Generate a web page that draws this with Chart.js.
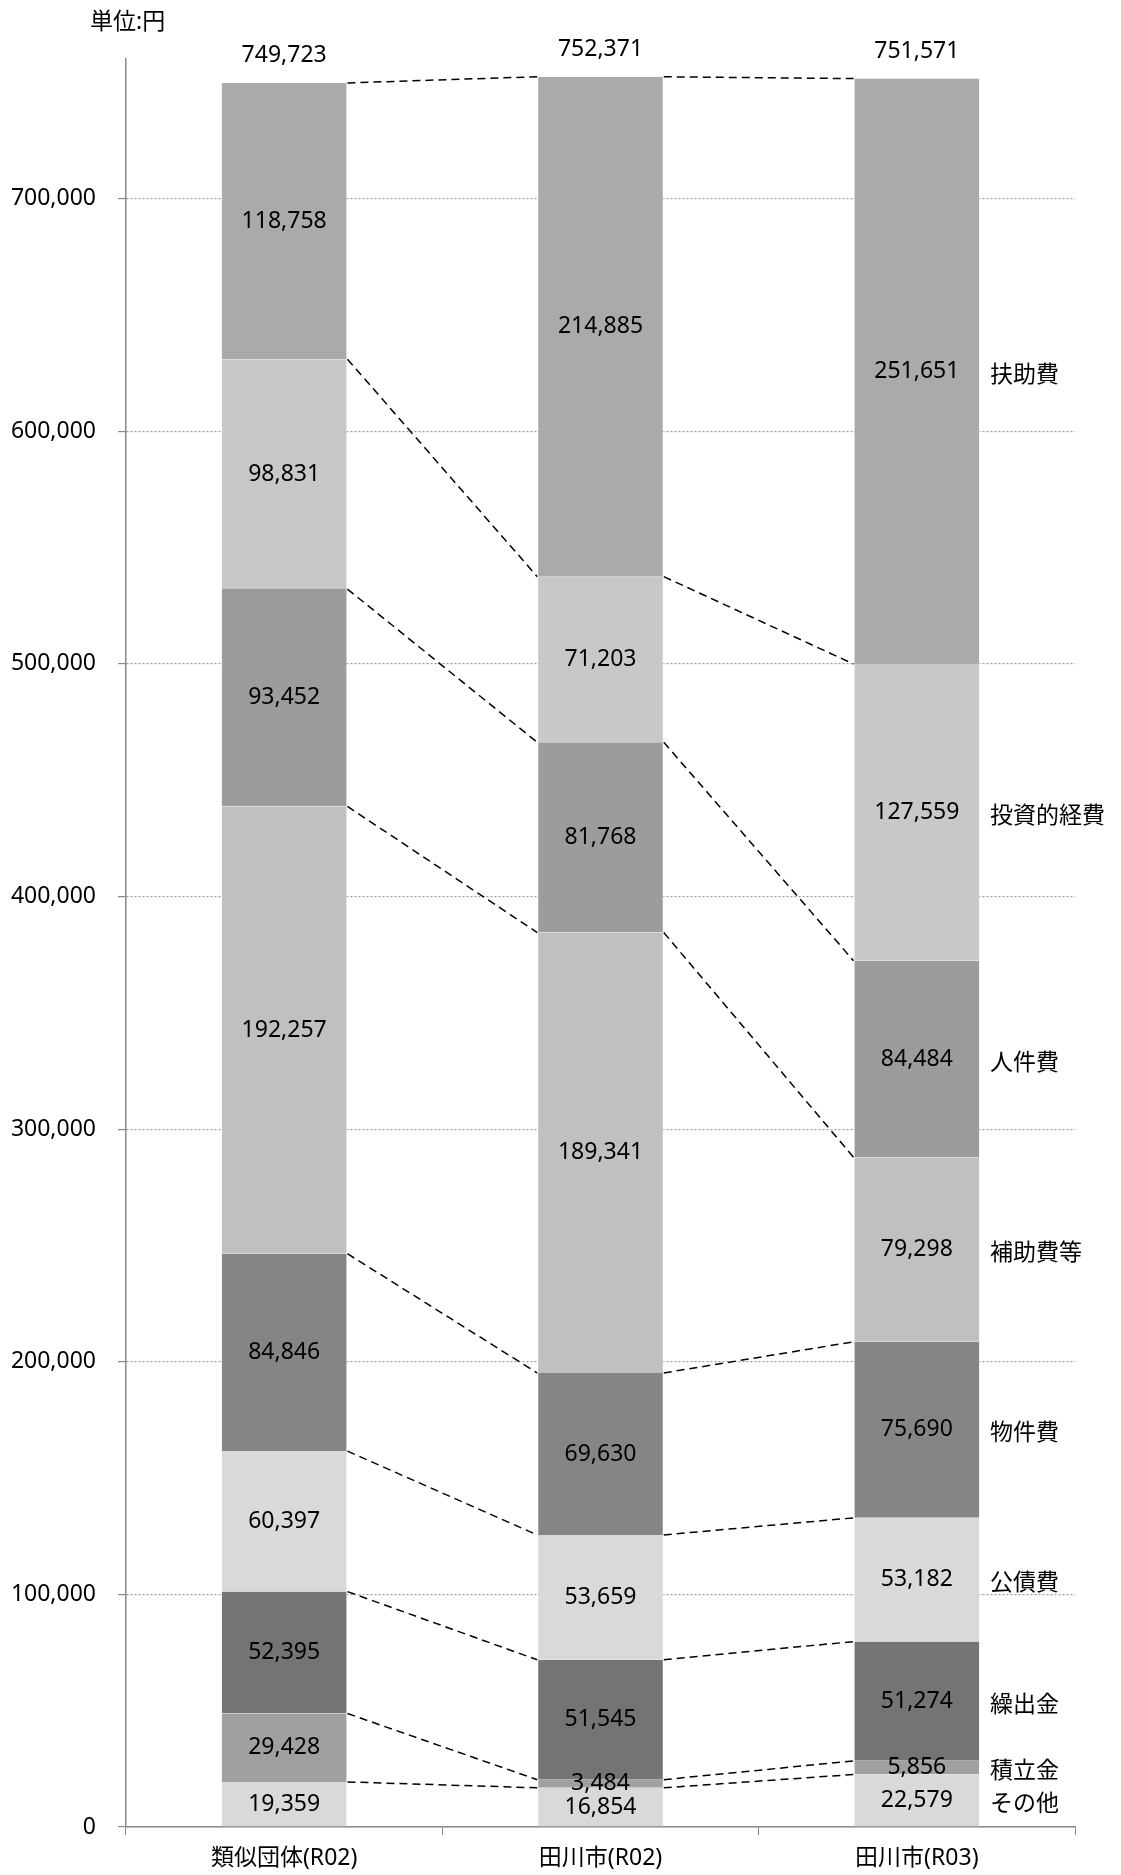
<!DOCTYPE html>
<html lang="ja">
<head>
<meta charset="utf-8">
<script src="https://cdn.jsdelivr.net/npm/chart.js@4.4.1/dist/chart.umd.min.js"></script>
<style>
    body { margin: 0; background: #fff; }
    #wrap { width: 1121px; height: 1875px; }
</style>
</head>
<body>
<div id="wrap"><canvas id="costChart" width="1121" height="1875"></canvas></div>
<script>
// 区分（左から）
const categories = ['類似団体(R02)', '田川市(R02)', '田川市(R03)'];

// 積み上げ順（下から）
const seriesNames = ['その他', '積立金', '繰出金', '公債費', '物件費', '補助費等', '人件費', '投資的経費', '扶助費'];
const sonota     = [19359, 16854, 22579];
const tsumitate  = [29428, 3484, 5856];
const kuridashi  = [52395, 51545, 51274];
const kousai     = [60397, 53659, 53182];
const bukken     = [84846, 69630, 75690];
const hojo       = [192257, 189341, 79298];
const jinken     = [93452, 81768, 84484];
const toushi     = [98831, 71203, 127559];
const fujo       = [118758, 214885, 251651];

// 合計（上に表示）
const totals = [749723, 752371, 751571];

// 目盛
const yTicks = [0, 100000, 200000, 300000, 400000, 500000, 600000, 700000];

const seriesData = [sonota, tsumitate, kuridashi, kousai, bukken, hojo, jinken, toushi, fujo];
const seriesColors = ['#d9d9d9', '#a0a0a0', '#747474', '#d9d9d9', '#858585', '#c0c0c0', '#9c9c9c', '#c8c8c8', '#aaaaaa'];

const FONT = '"Noto Sans", "Noto Sans CJK JP", sans-serif';
const FSIZE = 23;
const fmt = v => v.toLocaleString('en-US');

// 系列線・データラベル・系列名
const labelPlugin = {
    id: 'labelPlugin',
    afterDatasetsDraw(chart) {
        const ctx = chart.ctx;
        const n = chart.data.datasets.length;

        // 区分間の破線
        ctx.save();
        ctx.strokeStyle = '#000';
        ctx.lineWidth = 1.5;
        ctx.setLineDash([8, 5]);
        for (let k = 0; k < n; k++) {
            const bars = chart.getDatasetMeta(k).data;
            for (let i = 0; i < bars.length - 1; i++) {
                const a = bars[i], b = bars[i + 1];
                ctx.beginPath();
                ctx.moveTo(a.x + a.width / 2, a.y);
                ctx.lineTo(b.x - b.width / 2, b.y);
                ctx.stroke();
            }
        }
        ctx.restore();

        ctx.save();
        ctx.fillStyle = '#000';
        ctx.font = FSIZE + 'px ' + FONT;
        ctx.textAlign = 'center';
        ctx.textBaseline = 'middle';

        // 各区分の値
        for (let k = 0; k < n; k++) {
            const bars = chart.getDatasetMeta(k).data;
            bars.forEach((bar, i) => {
                const v = chart.data.datasets[k].data[i];
                ctx.fillText(fmt(v), bar.x, (bar.y + bar.base) / 2);
            });
        }

        // 合計
        const topBars = chart.getDatasetMeta(n - 1).data;
        topBars.forEach((bar, i) => {
            ctx.fillText(fmt(totals[i]), bar.x, bar.y - 27);
        });

        // 右端の系列名
        ctx.textAlign = 'left';
        const last = categories.length - 1;
        for (let k = 0; k < n; k++) {
            const bar = chart.getDatasetMeta(k).data[last];
            ctx.fillText(chart.data.datasets[k].label, bar.x + bar.width / 2 + 10, (bar.y + bar.base) / 2 + 4);
        }

        // 単位
        ctx.fillText('単位:円', 90, 22);
        ctx.restore();
    }
};

const ctx = document.getElementById('costChart').getContext('2d');
new Chart(ctx, {
    type: 'bar',
    data: {
        labels: categories,
        datasets: seriesNames.map((name, k) => ({
            label: name,
            data: seriesData[k],
            backgroundColor: seriesColors[k],
            borderColor: 'rgba(255, 255, 255, 0.6)',
            borderWidth: { left: 1, right: 1, top: 0, bottom: 0 },
            categoryPercentage: 1,
            barPercentage: 0.4
        }))
    },
    options: {
        responsive: false,
        animation: false,
        layout: {
            padding: { top: 59, right: 46, left: 0, bottom: 0 }
        },
        plugins: {
            legend: { display: false },
            tooltip: { enabled: false }
        },
        scales: {
            x: {
                stacked: true,
                offset: true,
                grid: {
                    display: true,
                    offset: true,
                    drawOnChartArea: false,
                    color: '#888',
                    tickLength: 8
                },
                border: { color: '#888', width: 1.5 },
                ticks: {
                    color: '#000',
                    padding: 10,
                    font: { family: FONT, size: FSIZE }
                },
                afterFit(scale) { scale.height = 48; }
            },
            y: {
                stacked: true,
                min: 0,
                max: 760000,
                grid: {
                    color: '#9a9a9a',
                    lineWidth: 1.2,
                    tickColor: '#888',
                    tickBorderDash: [],
                    tickLength: 8
                },
                border: { color: '#888', width: 1.5, dash: [2, 2] },
                ticks: {
                    color: '#000',
                    padding: 22,
                    font: { family: FONT, size: FSIZE },
                    callback: v => fmt(v)
                },
                afterBuildTicks(scale) {
                    scale.ticks = yTicks.map(v => ({ value: v }));
                },
                afterFit(scale) { scale.width = 126; }
            }
        }
    },
    plugins: [labelPlugin]
});
</script>
</body>
</html>
